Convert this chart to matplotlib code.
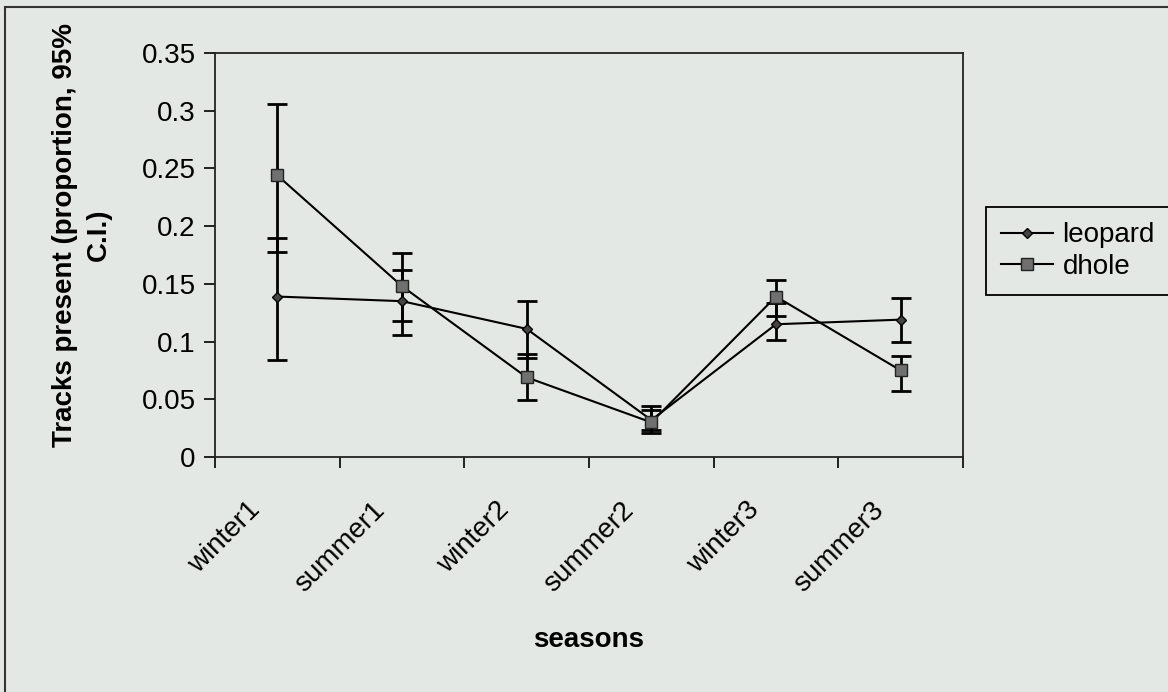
import numpy as np
import matplotlib
matplotlib.use("Agg")
import matplotlib.pyplot as plt
from matplotlib.patches import Rectangle
from matplotlib.lines import Line2D

plt.rcParams['font.family'] = ['Liberation Sans', 'DejaVu Sans']

seasons = ["winter1", "summer1", "winter2", "summer2", "winter3", "summer3"]

# proportion of transects with tracks, and 95% C.I. limits
leopard = [0.139, 0.135, 0.111, 0.032, 0.115, 0.119]
leopard_lo = [0.084, 0.106, 0.0855, 0.023, 0.101, 0.100]
leopard_hi = [0.190, 0.162, 0.135, 0.041, 0.133, 0.138]

dhole = [0.244, 0.148, 0.069, 0.030, 0.139, 0.075]
dhole_lo = [0.178, 0.118, 0.049, 0.021, 0.122, 0.057]
dhole_hi = [0.306, 0.177, 0.089, 0.044, 0.153, 0.0875]

bg = '#e4e8e5'
fs = 20

fig = plt.figure(figsize=(11.68, 6.92), dpi=100, facecolor=bg)
ax = fig.add_axes([215/1168, 1 - 457/692, (963-215)/1168, (457-53)/692])
ax.set_facecolor(bg)

# outer chart frame (runs off the right and bottom of the scan)
fig.add_artist(Rectangle((5/1168, -0.1), 1.2, 1.1 - 7/692, transform=fig.transFigure,
                         fill=False, edgecolor='#333333', lw=1.5))

x = np.arange(len(seasons))
lerr = [np.array(leopard) - np.array(leopard_lo), np.array(leopard_hi) - np.array(leopard)]
derr = [np.array(dhole) - np.array(dhole_lo), np.array(dhole_hi) - np.array(dhole)]

leo_style = dict(color='black', lw=1.5, marker='D', markersize=5,
                 markerfacecolor='#444444', markeredgecolor='black')
dho_style = dict(color='black', lw=1.5, marker='s', markersize=8,
                 markerfacecolor='#707070', markeredgecolor='#222222')

ax.errorbar(x, leopard, yerr=lerr, elinewidth=2, capsize=7, capthick=2, zorder=3, **leo_style)
ax.errorbar(x, dhole, yerr=derr, elinewidth=2, capsize=7, capthick=2, zorder=3, **dho_style)

ax.set_xlim(-0.5, len(seasons) - 0.5)
ax.set_ylim(0, 0.35)
ax.set_yticks(np.arange(0, 0.351, 0.05))
ax.set_yticklabels(['0', '0.05', '0.1', '0.15', '0.2', '0.25', '0.3', '0.35'])
# category axis: ticks between categories, labels slanted under each category
ax.set_xticks(np.arange(len(seasons) + 1) - 0.5)
ax.set_xticklabels([])
for i, name in enumerate(seasons):
    ax.annotate(name, xy=(i, 0), xycoords=('data', 'axes fraction'),
                xytext=(-21, -49), textcoords='offset pixels',
                rotation=45, ha='right', va='center', rotation_mode='anchor',
                fontsize=fs, annotation_clip=False)
ax.tick_params(axis='x', length=8, width=1.2, direction='out')
ax.tick_params(axis='y', length=8, width=1.2, direction='out', labelsize=fs, pad=6)
for s in ax.spines.values():
    s.set_linewidth(1.3)
    s.set_color('#222222')

ax.set_xlabel('seasons', fontsize=fs, fontweight='bold')
ax.xaxis.set_label_coords(0.5, -0.42)
ax.set_ylabel('Tracks present (proportion, 95%\nC.I.)', fontsize=fs, fontweight='bold',
              linespacing=1.4)
ax.yaxis.set_label_coords(-0.138, 0.55)

handles = [Line2D([], [], **leo_style), Line2D([], [], **dho_style)]
leg = ax.legend(handles, ['leopard', 'dhole'], loc='upper left',
                bbox_to_anchor=(986/1168, 1 - 207/692),
                bbox_transform=fig.transFigure, fontsize=fs, frameon=True,
                fancybox=False, edgecolor='black', facecolor=bg, framealpha=1,
                handlelength=1.85, borderpad=0.55, labelspacing=0.2, handletextpad=0.35,
                borderaxespad=0)
leg.get_frame().set_linewidth(1.3)

fig.savefig('out.png', dpi=100, facecolor=bg)
